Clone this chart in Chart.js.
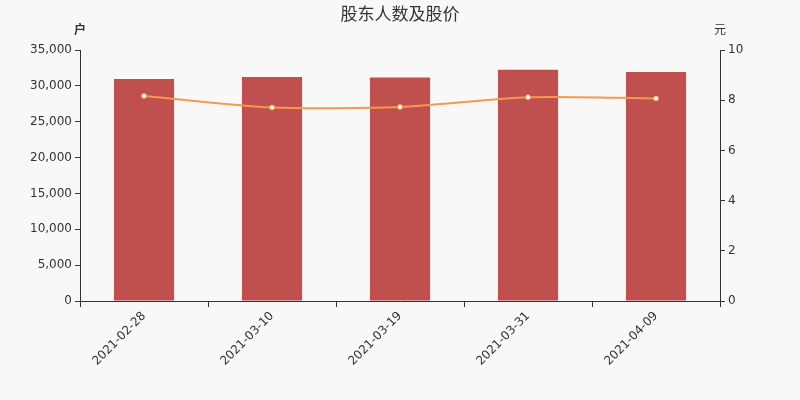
<!DOCTYPE html>
<html>
<head>
<meta charset="utf-8">
<script src="https://cdn.jsdelivr.net/npm/chart.js@4"></script>
<style>
  html, body { margin: 0; padding: 0; background: #f8f8f8; }
  #wrap { width: 800px; height: 400px; }
</style>
</head>
<body>
<div id="wrap"><canvas id="chart"></canvas></div>
<script>
// Dados
const dates = ['2021-02-28', '2021-03-10', '2021-03-19', '2021-03-31', '2021-04-09'];
const holders = [30940, 31220, 31170, 32240, 31920];
const prices = [8.17, 7.71, 7.73, 8.12, 8.07];
const leftTicks = [0, 5000, 10000, 15000, 20000, 25000, 30000, 35000];
const rightTicks = [0, 2, 4, 6, 8, 10];

const fontFamily = '"DejaVu Sans", "Noto Sans CJK SC", sans-serif';
const textColor = '#333';

// Título e unidades desenhados à mão
const labelsPlugin = {
  id: 'labels',
  afterDraw(chart) {
    const ctx = chart.ctx;
    const area = chart.chartArea;
    ctx.save();
    ctx.fillStyle = textColor;
    ctx.textBaseline = 'middle';
    ctx.textAlign = 'center';
    ctx.font = '17px "Noto Sans CJK SC", sans-serif';
    ctx.fillText('股东人数及股价', 400, 14);
    ctx.font = 'bold 12px "Noto Sans CJK SC", sans-serif';
    ctx.fillText('户', area.left, 29);
    ctx.font = '12px "Noto Sans CJK SC", sans-serif';
    ctx.fillText('元', area.right, 29);
    ctx.restore();
  }
};

new Chart(document.getElementById('chart'), {
  data: {
    labels: dates,
    datasets: [
      {
        type: 'line',
        data: prices,
        yAxisID: 'y1',
        borderColor: '#f5994a',
        borderWidth: 2,
        pointRadius: 2.5,
        pointBackgroundColor: '#ffffff',
        pointBorderColor: '#f5994a',
        pointBorderWidth: 1,
        tension: 0.25,
        order: 0
      },
      {
        type: 'bar',
        data: holders,
        yAxisID: 'y',
        backgroundColor: '#c0504d',
        barPercentage: 0.47,
        categoryPercentage: 1,
        order: 1
      }
    ]
  },
  options: {
    responsive: true,
    maintainAspectRatio: false,
    animation: false,
    layout: { padding: { top: 50, left: 0, right: 0, bottom: 0 } },
    plugins: {
      legend: { display: false },
      tooltip: { enabled: false }
    },
    scales: {
      x: {
        offset: true,
        grid: { display: true, drawOnChartArea: false, tickLength: 6, color: textColor, offset: true },
        border: { display: true, color: textColor },
        ticks: { color: textColor, font: { family: fontFamily, size: 12 }, maxRotation: 45, minRotation: 45, padding: 2 },
        afterFit(scale) { scale.height = 99; }
      },
      y: {
        position: 'left',
        min: 0,
        max: 35000,
        afterBuildTicks(scale) { scale.ticks = leftTicks.map(v => ({ value: v })); },
        grid: { display: true, drawOnChartArea: false, tickLength: 5, color: textColor },
        border: { display: true, color: textColor },
        ticks: {
          color: textColor,
          font: { family: fontFamily, size: 12 },
          padding: 3,
          callback: v => v.toLocaleString('en-US')
        },
        afterFit(scale) { scale.width = 80; }
      },
      y1: {
        position: 'right',
        min: 0,
        max: 10,
        afterBuildTicks(scale) { scale.ticks = rightTicks.map(v => ({ value: v })); },
        grid: { display: true, drawOnChartArea: false, tickLength: 5, color: textColor },
        border: { display: true, color: textColor },
        ticks: { color: textColor, font: { family: fontFamily, size: 12 }, padding: 3 },
        afterFit(scale) { scale.width = 80; }
      }
    }
  },
  plugins: [labelsPlugin]
});
</script>
</body>
</html>
